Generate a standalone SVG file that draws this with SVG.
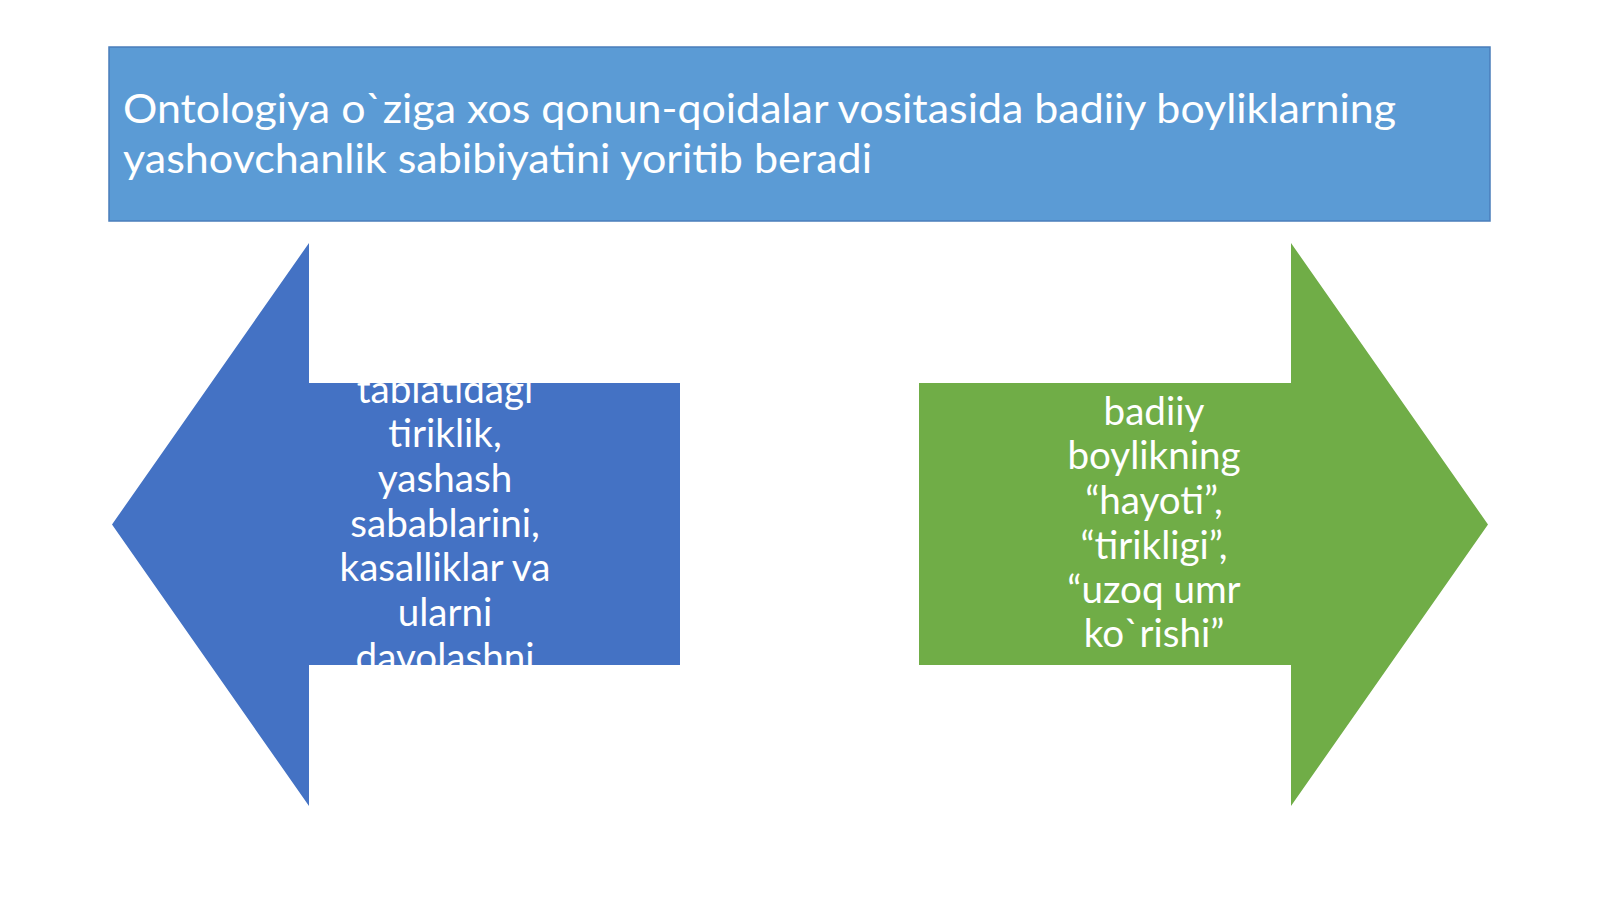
<svg xmlns="http://www.w3.org/2000/svg" width="1600" height="899" viewBox="0 0 1600 899">
  <style>
    .t { font-family: Lato, "Noto Sans", "Liberation Sans", sans-serif; fill: #ffffff; }
    .hdr { font-size: 41px; }
    .lbl { font-size: 38.6px; text-anchor: middle; }
  </style>
  <defs>
    <clipPath id="clipL"><rect x="309" y="383" width="371" height="282"/></clipPath>
    <clipPath id="clipR"><rect x="919" y="383" width="372" height="282"/></clipPath>
  </defs>
  <rect width="1600" height="899" fill="#ffffff"/>
  <g id="header">
    <rect x="109" y="47" width="1381" height="174" fill="#5B9BD5" stroke="#4A7EBB" stroke-width="1.5"/>
    <text class="t hdr" x="123" y="123" textLength="1273" lengthAdjust="spacingAndGlyphs">Ontologiya o`ziga xos qonun-qoidalar vositasida badiiy boyliklarning</text>
    <text class="t hdr" x="123" y="173" textLength="749" lengthAdjust="spacingAndGlyphs">yashovchanlik sabibiyatini yoritib beradi</text>
  </g>
  <g id="left-arrow">
    <polygon points="112,524.5 309,243 309,383 680,383 680,665 309,665 309,806" fill="#4472C4"/>
    <g clip-path="url(#clipL)">
      <text class="t lbl" x="445" y="402.5">tabiatidagi</text>
      <text class="t lbl" x="445" y="447">tiriklik,</text>
      <text class="t lbl" x="445" y="492">yashash</text>
      <text class="t lbl" x="445" y="536.5">sabablarini,</text>
      <text class="t lbl" x="445" y="581">kasalliklar va</text>
      <text class="t lbl" x="445" y="626">ularni</text>
      <text class="t lbl" x="445" y="670.5">davolashni</text>
    </g>
  </g>
  <g id="right-arrow">
    <polygon points="1488,524.5 1291,243 1291,383 919,383 919,665 1291,665 1291,806" fill="#70AD47"/>
    <g clip-path="url(#clipR)">
      <text class="t lbl" x="1154" y="424.5">badiiy</text>
      <text class="t lbl" x="1154" y="469">boylikning</text>
      <text class="t lbl" x="1154" y="514">“hayoti”,</text>
      <text class="t lbl" x="1154" y="558.5">“tirikligi”,</text>
      <text class="t lbl" x="1154" y="603">“uzoq umr</text>
      <text class="t lbl" x="1154" y="647">ko`rishi”</text>
    </g>
  </g>
  <g id="connectors"/>
</svg>
